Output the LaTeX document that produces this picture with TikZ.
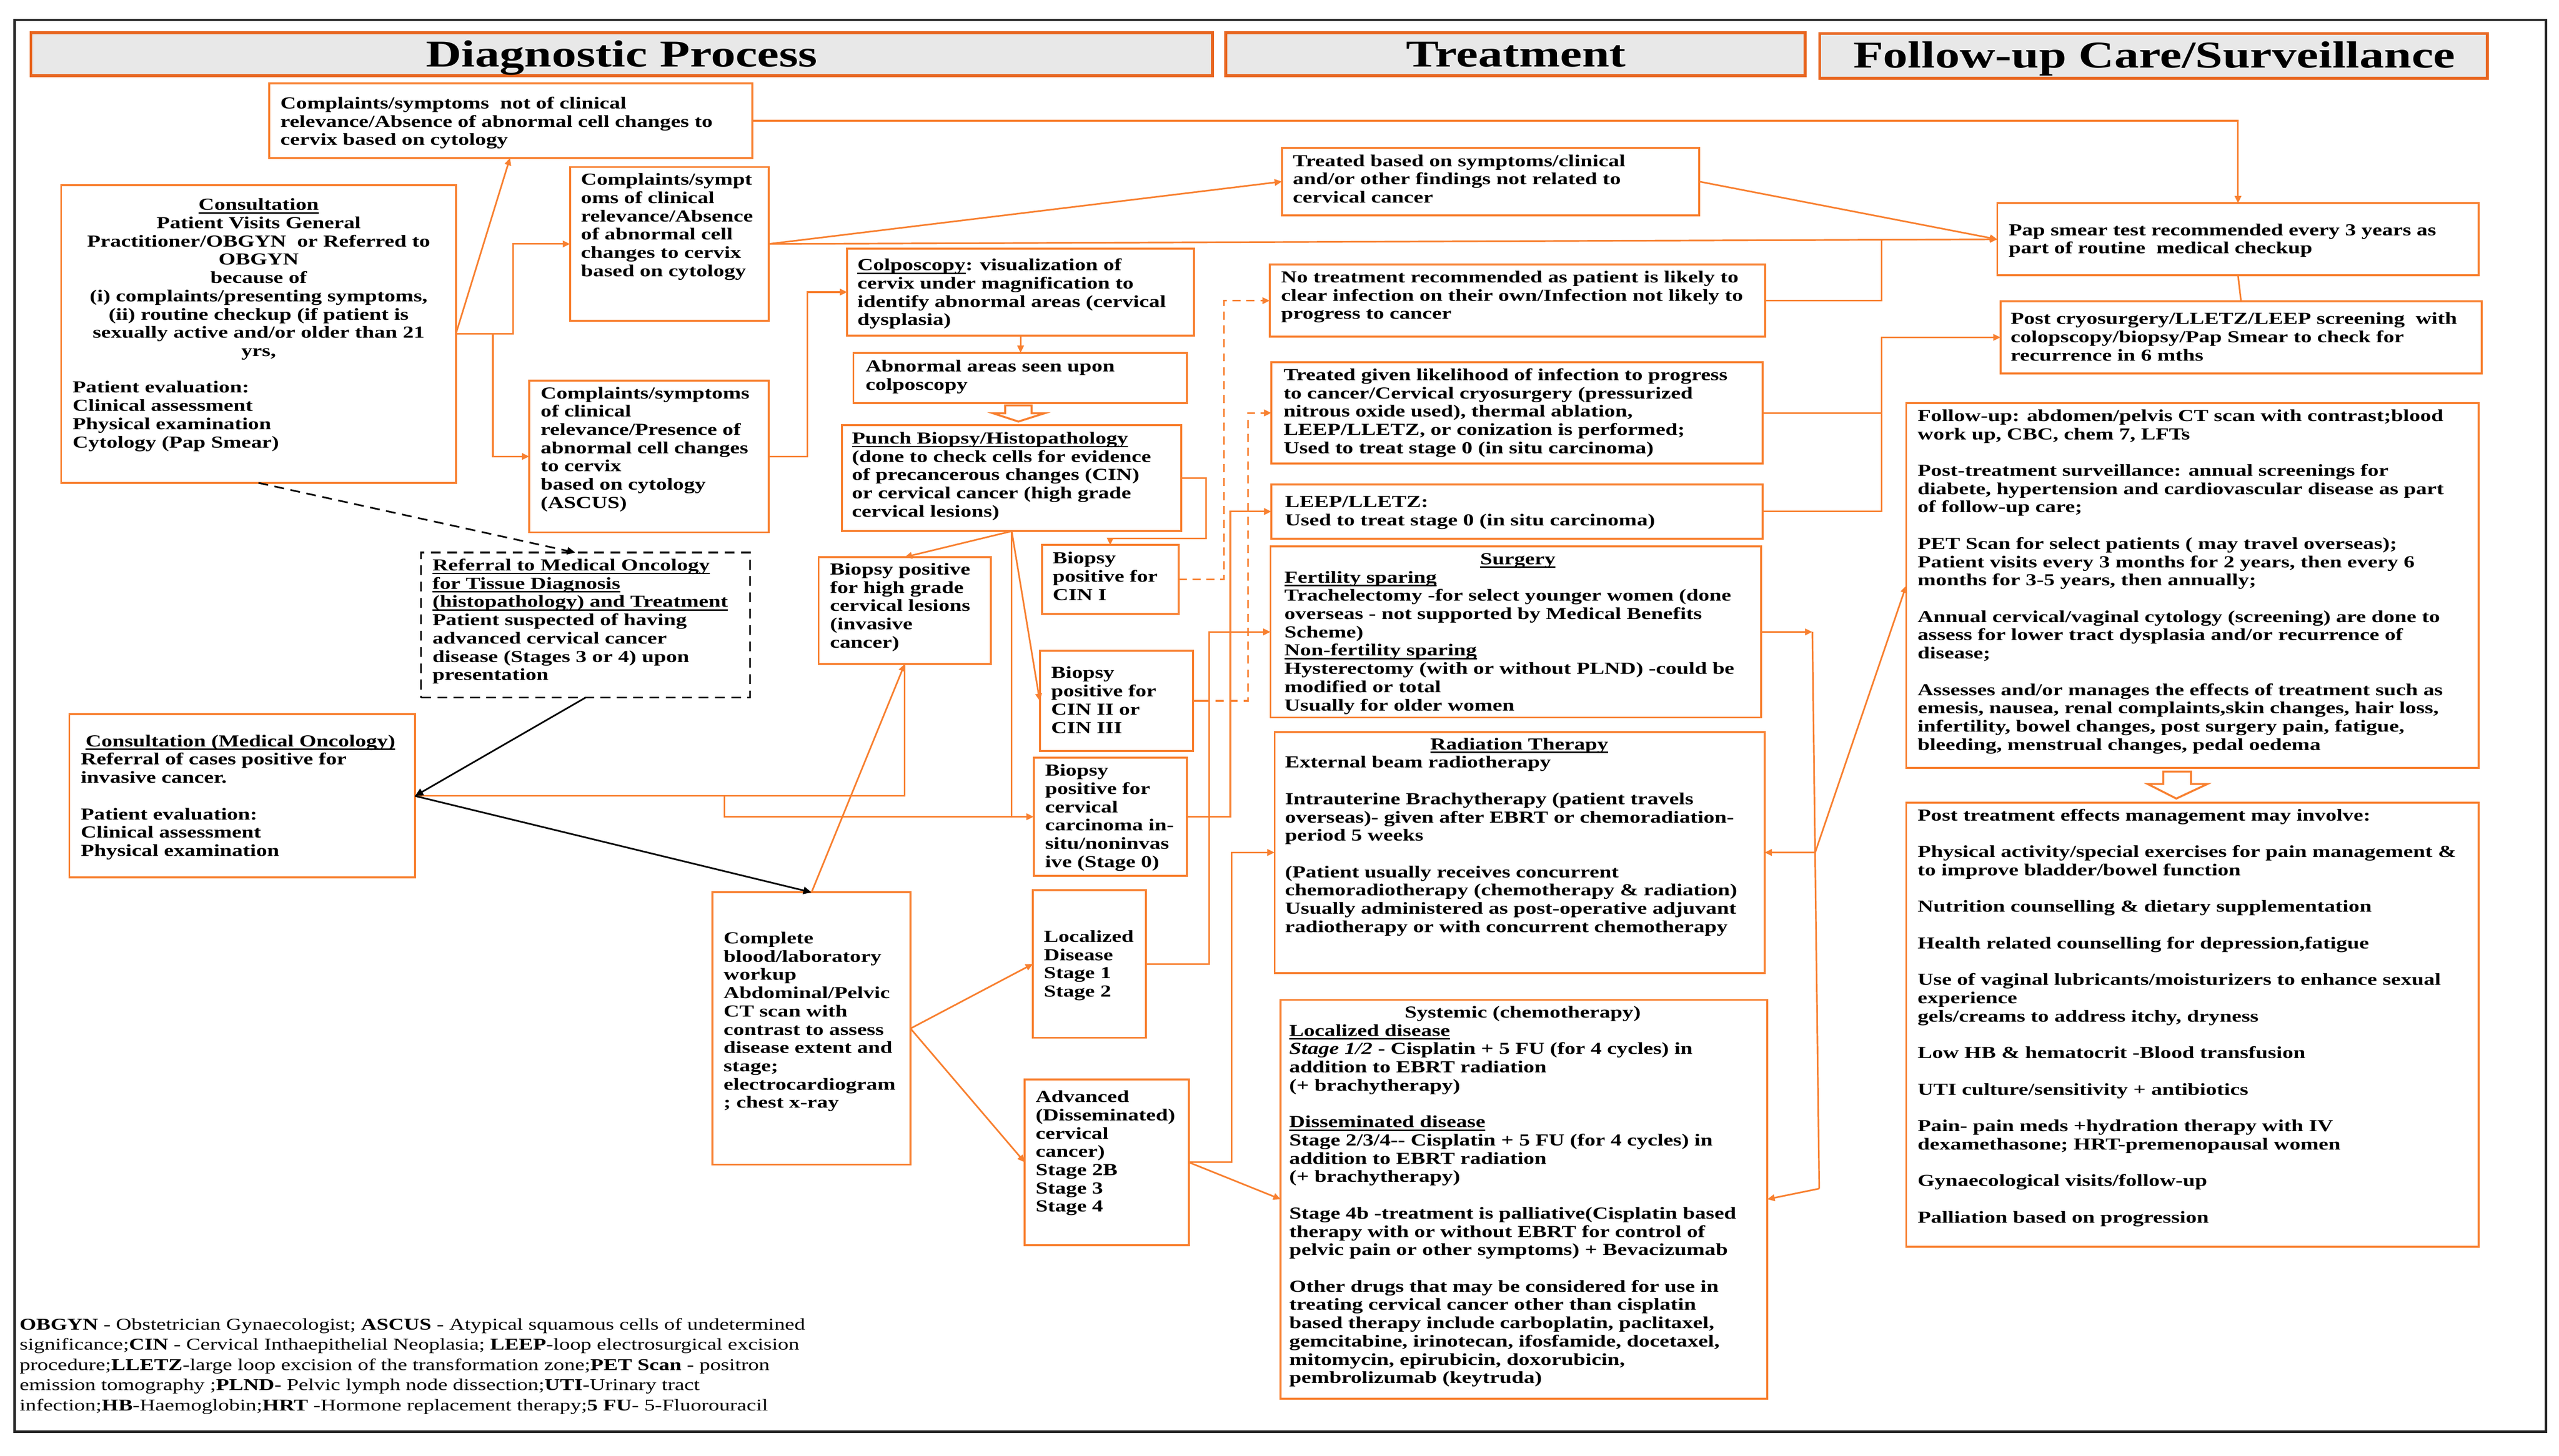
\documentclass[tikz,border=0pt]{standalone}
\usepackage{fontspec}
\setmainfont{Liberation Serif}[FakeStretch=1.3]
\usetikzlibrary{arrows.meta}
\definecolor{boxor}{RGB}{248,128,48}
\definecolor{lineor}{RGB}{248,128,48}
\definecolor{hdror}{RGB}{232,102,32}
\definecolor{hdrgray}{RGB}{232,232,232}
\newcommand\myl[1]{\hbox to\hsize{\strut#1\hfil}}
\newcommand\myc[1]{\hbox to\hsize{\hfil\strut#1\hfil}}
\newcommand\myul[1]{\setbox0\hbox{#1}\rlap{\vrule height -1.3pt depth 2.2pt width \wd0}\box0}
\newcommand\bx[6][]{\pgfmathsetmacro\bxw{#5-#3}\pgfmathsetmacro\bxh{#6-#4}%
  \node[boxst,#1,minimum width=\bxw pt,minimum height=\bxh pt] (#2) at ({(#3+#5)/2},{(#4+#6)/2}) {};}
\newcommand\tx[5]{\node[txt] (#1) at (#2,#3-4.84) {\vbox{\hsize=#4pt\relax#5}};}
\begin{document}
\begin{tikzpicture}[x=1pt,y=-1pt,
  boxst/.style={draw=boxor,line width=1.2pt,fill=white,inner sep=0pt,outer sep=0pt},
  hdr/.style={draw=hdror,fill=hdrgray,line width=1.8pt},
  dbox/.style={draw=black,line width=1.1pt,dash pattern=on 6pt off 4pt},
  hdrtxt/.style={anchor=base,inner sep=0pt,font={\fontsize{23.2}{26}\selectfont\bfseries}},
  txt/.style={anchor=north west,inner sep=0pt,outer sep=0pt,font={\fontsize{10.3}{11.2}\selectfont\bfseries}},
  foot/.style={anchor=north west,inner sep=0pt,outer sep=0pt,font={\fontsize{10.1}{12.4}\selectfont}},
  conn/.style={draw=lineor,line width=1pt},
  arr/.style={conn,-{Triangle[length=4.5pt,width=4pt]}},
  darr/.style={arr,dash pattern=on 5pt off 3.5pt},
  blk/.style={draw=black,line width=1pt,-{Triangle[length=5pt,width=4.5pt]}},
  blkd/.style={blk,dash pattern=on 6pt off 4pt},
  hollow/.style={draw=lineor,line width=1.2pt,fill=white,line join=miter}]
\useasboundingbox (0,0) rectangle (1568,892.3);
\fill[white] (0,0) rectangle (1568,892.3);
\draw[line width=1.4pt,black!85] (9,12.3) rectangle (1560,877.6);

% headers
\bx[hdr]{H1}{19}{20}{743}{46.5}
\bx[hdr]{H2}{751}{20}{1106}{46.5}
\bx[hdr]{H3}{1115}{20.5}{1524}{48}
\node[hdrtxt] (H1t) at (381,40.8) {Diagnostic Process};
\node[hdrtxt] (H2t) at (929,40.8) {Treatment};
\node[hdrtxt] (H3t) at (1320,41.5) {Follow-up Care/Surveillance};

% boxes
\bx{A}{165}{51.2}{460.9}{96.8}
\bx{B}{37.5}{113.4}{279.3}{296}
\bx{C}{349.3}{102.4}{470.9}{196.7}
\bx{D}{324.3}{233.3}{470.9}{326.3}
\bx{E}{519.1}{152.3}{731.6}{205.8}
\bx{F}{522.9}{216.3}{727.1}{247}
\bx{G}{515.9}{260.5}{723.9}{325.6}
\bx[dbox]{H}{258}{338.7}{459.6}{427.6}
\bx{I}{501.6}{341.5}{607.1}{407}
\bx{J}{638.4}{334.1}{722.1}{376.2}
\bx{K}{637.1}{399}{730.9}{460.3}
\bx{L}{633.4}{464.4}{727.1}{536.9}
\bx{M}{42.5}{437.9}{254.3}{537.9}
\bx{N}{436.6}{547}{557.9}{713.9}
\bx{O}{632.9}{545.6}{702.1}{636.1}
\bx{P}{627.9}{661.7}{728.4}{763.2}
\bx{Q}{785.5}{90.7}{1041.2}{131.9}
\bx{R}{778}{162.2}{1081.7}{206.4}
\bx{S}{779}{222}{1080}{284.2}
\bx{T}{779}{297}{1080}{330.1}
\bx{U}{778.5}{334.9}{1079.2}{439.8}
\bx{V}{781}{448.7}{1081.2}{596.4}
\bx{W}{784.7}{612.9}{1082.9}{857.3}
\bx{X}{1223.8}{124.6}{1518.8}{168.8}
\bx{Y}{1225.8}{184.6}{1520.5}{229}
\bx{Z}{1168}{247.2}{1518.8}{470.7}
\bx{AA}{1168}{492}{1518.8}{764.3}

% texts
\tx{At}{171.8}{63.6}{285}{\myl{Complaints/symptoms\ \ not of clinical}\myl{relevance/Absence of abnormal cell changes to}\myl{cervix based on cytology}}
\tx{Bt}{44.5}{125.8}{228}{\myc{\myul{Consultation}}\myc{Patient Visits General}\myc{Practitioner/OBGYN\ \ or Referred to}\myc{OBGYN}\myc{because of}\myc{(i) complaints/presenting symptoms,}\myc{(ii) routine checkup (if patient is}\myc{sexually active and/or older than 21}\myc{yrs,}\myl{}\myl{Patient evaluation:}\myl{Clinical assessment}\myl{Physical examination}\myl{Cytology (Pap Smear)}}
\tx{Ct}{356}{110.4}{111}{\myl{Complaints/sympt}\myl{oms of clinical}\myl{relevance/Absence}\myl{of abnormal cell}\myl{changes to cervix}\myl{based on cytology}}
\tx{Dt}{331.3}{241.3}{136}{\myl{Complaints/symptoms}\myl{of clinical}\myl{relevance/Presence of}\myl{abnormal cell changes}\myl{to cervix}\myl{based on cytology}\myl{(ASCUS)}}
\tx{Et}{525.4}{162.8}{202}{\myl{\myul{Colposcopy}: visualization of}\myl{cervix under magnification to}\myl{identify abnormal areas (cervical}\myl{dysplasia)}}
\tx{Ft}{530.4}{224.8}{192}{\myl{Abnormal areas seen upon}\myl{colposcopy}}
\tx{Gt}{522}{269}{198}{\myl{\myul{Punch Biopsy/Histopathology}}\myl{(done to check cells for evidence}\myl{of precancerous changes (CIN)}\myl{or cervical cancer (high grade}\myl{cervical lesions)}}
\tx{Ht}{265}{346.8}{190}{\myl{\myul{Referral to Medical Oncology}}\myl{\myul{for Tissue Diagnosis}}\myl{\myul{(histopathology) and Treatment}}\myl{Patient suspected of having}\myl{advanced cervical cancer}\myl{disease (Stages 3 or 4) upon}\myl{presentation}}
\tx{It}{508.6}{349.3}{95}{\myl{Biopsy positive}\myl{for high grade}\myl{cervical lesions}\myl{(invasive}\myl{cancer)}}
\tx{Jt}{645}{342.5}{73}{\myl{Biopsy}\myl{positive for}\myl{CIN I}}
\tx{Kt}{644.1}{412.8}{83}{\myl{Biopsy}\myl{positive for}\myl{CIN II or}\myl{CIN III}}
\tx{Lt}{640.4}{472.6}{83}{\myl{Biopsy}\myl{positive for}\myl{cervical}\myl{carcinoma in-}\myl{situ/noninvas}\myl{ive (Stage 0)}}
\tx{Mt}{49.5}{454.6}{200}{\myl{\hspace{3pt}\myul{Consultation (Medical Oncology)}}\myl{Referral of cases positive for}\myl{invasive cancer.}\myl{}\myl{Patient evaluation:}\myl{Clinical assessment}\myl{Physical examination}}
\tx{Nt}{443.4}{575.4}{111}{\myl{Complete}\myl{blood/laboratory}\myl{workup}\myl{Abdominal/Pelvic}\myl{CT scan with}\myl{contrast to assess}\myl{disease extent and}\myl{stage;}\myl{electrocardiogram}\myl{; chest x-ray}}
\tx{Ot}{639.6}{574.5}{59}{\myl{Localized}\myl{Disease}\myl{Stage 1}\myl{Stage 2}}
\tx{Pt}{634.6}{672.7}{90}{\myl{Advanced}\myl{(Disseminated)}\myl{cervical}\myl{cancer)}\myl{Stage 2B}\myl{Stage 3}\myl{Stage 4}}
\tx{Qt}{792.2}{99}{245}{\myl{Treated based on symptoms/clinical}\myl{and/or other findings not related to}\myl{cervical cancer}}
\tx{Rt}{785}{170.2}{293}{\myl{No treatment recommended as patient is likely to}\myl{clear infection on their own/Infection not likely to}\myl{progress to cancer}}
\tx{St}{786.5}{230.1}{290}{\myl{Treated given likelihood of infection to progress}\myl{to cancer/Cervical cryosurgery (pressurized}\myl{nitrous oxide used), thermal ablation,}\myl{LEEP/LLETZ, or conization is performed;}\myl{Used to treat stage 0 (in situ carcinoma)}}
\tx{Tt}{787.4}{307.9}{289}{\myl{LEEP/LLETZ:}\myl{Used to treat stage 0 (in situ carcinoma)}}
\tx{Ut}{787}{343}{286}{\myc{\myul{Surgery}}\myl{\myul{Fertility sparing}}\myl{Trachelectomy -for select younger women (done}\myl{overseas - not supported by Medical Benefits}\myl{Scheme)}\myl{\myul{Non-fertility sparing}}\myl{Hysterectomy (with or without PLND) -could be}\myl{modified or total}\myl{Usually for older women}}
\tx{Vt}{787.4}{456.5}{287}{\myc{\myul{Radiation Therapy}}\myl{External beam radiotherapy}\myl{}\myl{Intrauterine Brachytherapy (patient travels}\myl{overseas)- given after EBRT or chemoradiation-}\myl{period 5 weeks}\myl{}\myl{(Patient usually receives concurrent}\myl{chemoradiotherapy (chemotherapy \& radiation)}\myl{Usually administered as post-operative adjuvant}\myl{radiotherapy or with concurrent chemotherapy}}
\tx{Wt}{790}{620.9}{286}{\myc{Systemic (chemotherapy)}\myl{\myul{Localized disease}}\myl{\textit{Stage 1/2} - Cisplatin + 5 FU (for 4 cycles) in}\myl{addition to EBRT radiation}\myl{(+ brachytherapy)}\myl{}\myl{\myul{Disseminated disease}}\myl{Stage 2/3/4-{}- Cisplatin + 5 FU (for 4 cycles) in}\myl{addition to EBRT radiation}\myl{(+ brachytherapy)}\myl{}\myl{Stage 4b -treatment is palliative(Cisplatin based}\myl{therapy with or without EBRT for control of}\myl{pelvic pain or other symptoms) + Bevacizumab}\myl{}\myl{Other drugs that may be considered for use in}\myl{treating cervical cancer other than cisplatin}\myl{based therapy include carboplatin, paclitaxel,}\myl{gemcitabine, irinotecan, ifosfamide, docetaxel,}\myl{mitomycin, epirubicin, doxorubicin,}\myl{pembrolizumab (keytruda)}}
\tx{Xt}{1230.8}{141.3}{284}{\myl{Pap smear test recommended every 3 years as}\myl{part of routine\ \ medical checkup}}
\tx{Yt}{1232}{195.8}{285}{\myl{Post cryosurgery/LLETZ/LEEP screening\ \ with}\myl{colopscopy/biopsy/Pap Smear to check for}\myl{recurrence in 6 mths}}
\tx{Zt}{1175}{255.2}{340}{\myl{Follow-up: abdomen/pelvis CT scan with contrast;blood}\myl{work up, CBC, chem 7, LFTs}\myl{}\myl{Post-treatment surveillance: annual screenings for}\myl{diabete, hypertension and cardiovascular disease as part}\myl{of follow-up care;}\myl{}\myl{PET Scan for select patients ( may travel overseas);}\myl{Patient visits every 3 months for 2 years, then every 6}\myl{months for 3-5 years, then annually;}\myl{}\myl{Annual cervical/vaginal cytology (screening) are done to}\myl{assess for lower tract dysplasia and/or recurrence of}\myl{disease;}\myl{}\myl{Assesses and/or manages the effects of treatment such as}\myl{emesis, nausea, renal complaints,skin changes, hair loss,}\myl{infertility, bowel changes, post surgery pain, fatigue,}\myl{bleeding, menstrual changes, pedal oedema}}
\tx{AAt}{1175}{500.1}{340}{\myl{Post treatment effects management may involve:}\myl{}\myl{Physical activity/special exercises for pain management \&}\myl{to improve bladder/bowel function}\myl{}\myl{Nutrition counselling \& dietary supplementation}\myl{}\myl{Health related counselling for depression,fatigue}\myl{}\myl{Use of vaginal lubricants/moisturizers to enhance sexual}\myl{experience}\myl{gels/creams to address itchy, dryness}\myl{}\myl{Low HB \& hematocrit -Blood transfusion}\myl{}\myl{UTI culture/sensitivity + antibiotics}\myl{}\myl{Pain- pain meds +hydration therapy with IV}\myl{dexamethasone; HRT-premenopausal women}\myl{}\myl{Gynaecological visits/follow-up}\myl{}\myl{Palliation based on progression}}
\node[foot] (FN) at (12,806.4) {\vbox{\hsize=490pt\relax
\myl{\textbf{OBGYN} - Obstetrician Gynaecologist; \textbf{ASCUS} - Atypical squamous cells of undetermined}
\myl{significance;\textbf{CIN} - Cervical Inthaepithelial Neoplasia; \textbf{LEEP}-loop electrosurgical excision}
\myl{procedure;\textbf{LLETZ}-large loop excision of the transformation zone;\textbf{PET Scan} - positron}
\myl{emission tomography ;\textbf{PLND}- Pelvic lymph node dissection;\textbf{UTI}-Urinary tract}
\myl{infection;\textbf{HB}-Haemoglobin;\textbf{HRT} -Hormone replacement therapy;\textbf{5 FU}- 5-Fluorouracil}}};

% connectors - diagnostic
\draw[arr] (B.east) -- ([xshift=147.5]A.south west);
\draw[arr] (B.east) -- ++(35,0) |- (C.west);
\draw[arr] (B.east) -- ++(22.7,0) |- (D.west);
\draw[arr] (A.east) -| (X.north);
\draw[arr] (C.east) -- (Q.west);
\draw[arr] (C.east) -- (X.west);
\draw[arr] (Q.east) -- (X.west);
\coordinate (jR) at (1152.9,147);
\draw[conn] (R.east) -| (jR);
\draw[arr] (D.east) -- ++(23.7,0) |- (E.west);
\draw[arr] (E.south) -- (E.south |- F.north);
\draw[hollow] (615.9,248.5) -- (632.1,248.5) -- (632.1,253.3) -- (640.1,253.3) -- (624,258.4) -- (608.4,253.3) -- (615.9,253.3) -- cycle;
\draw[arr] (G.east) -- ++(15.1,0) -- ++(0,37) -| (J.north);
\draw[arr] (G.south) -- (I.north);
\draw[arr] (G.south) -- (K.west);
\draw[conn] (G.south) -- (G.south |- L.west);
\draw[conn] (M.east) -| (I.south);
\coordinate (jM) at (443.9,487.9);
\draw[arr] (jM) |- (L.west);
\draw[blkd] (B.south) -- ([xshift=-6.3]H.north);
\draw[blk] (H.south) -- (M.east);
\draw[blk] (M.east) -- (N.north);
\draw[arr] (N.north) -- (I.south);
\draw[arr] (N.east) -- (O.west);
\draw[arr] (N.east) -- (P.west);
% diagnostic -> treatment
\draw[arr] (O.east) -- ++(38.8,0) |- (U.west);
\draw[conn] (K.east) -- ++(10,0);
\draw[darr] ([xshift=14]K.east) -- ([xshift=33.7]K.east) |- (S.west);
\draw[darr] (J.east) -- ++(27.9,0) |- (R.west);
\draw[arr] (L.east) -- ++(26.8,0) |- (T.west);
\draw[arr] (P.east) -- ++(26.2,0) |- (V.west);
\draw[arr] (P.east) -- (W.west);
% treatment -> follow-up
\coordinate (rj1) at (1110.5,387.35);
\coordinate (rj2) at (1114.7,728.6);
\coordinate (rj3) at (1112.2,522.55);
\draw[arr] (U.east) -- (rj1);
\draw[conn] (rj1) -- (rj2);
\draw[arr] (rj2) -- (W.east);
\draw[arr] (rj3) -- (V.east);
\draw[arr] (rj3) -- (Z.west);
\draw[conn] (S.east) -- ++(72.9,0);
\draw[arr] (T.east) -- ++(72.9,0) |- (Y.west);
\draw[conn] (X.south) -- (Y.north);
\draw[hollow] (1325.5,473) -- (1342.5,473) -- (1342.5,480.6) -- (1352.5,480.6) -- (1333.5,489.5) -- (1316,480.6) -- (1325.5,480.6) -- cycle;
\end{tikzpicture}
\end{document}
